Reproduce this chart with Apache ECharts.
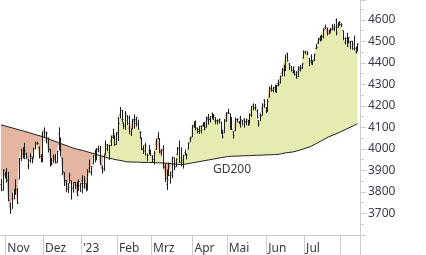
<!DOCTYPE html>
<html>
<head>
    <meta charset="utf-8">
    <title>S&amp;P 500 mit GD200</title>
    <style>
        html, body { margin: 0; padding: 0; background: #fff; }
    </style>
</head>
<body>
    <div id="main" style="width: 426px;height:255px;"></div>
    <script src="https://cdn.jsdelivr.net/npm/echarts@6/dist/echarts.min.js"></script>
    <script type="text/javascript">
        // Tageskurse: Datum, Eröffnung, Hoch, Tief, Schluss
        var bars = [
            ['2022-10-27', 3834.7, 3859.9, 3803.8, 3807.3],
            ['2022-10-28', 3808.3, 3905.4, 3808.3, 3901.1],
            ['2022-10-31', 3881.9, 3893.7, 3863.2, 3872.0],
            ['2022-11-01', 3901.8, 3911.8, 3843.8, 3856.1],
            ['2022-11-02', 3852.9, 3894.4, 3758.7, 3759.7],
            ['2022-11-03', 3733.3, 3750.6, 3698.2, 3719.9],
            ['2022-11-04', 3767.0, 3796.3, 3721.6, 3770.6],
            ['2022-11-07', 3780.7, 3813.9, 3764.7, 3806.8],
            ['2022-11-08', 3817.0, 3859.4, 3786.3, 3828.1],
            ['2022-11-09', 3810.9, 3818.2, 3744.2, 3748.6],
            ['2022-11-10', 3859.9, 3958.3, 3859.9, 3956.4],
            ['2022-11-11', 3963.7, 4001.5, 3944.8, 3992.9],
            ['2022-11-14', 3978.0, 4009.0, 3956.4, 3957.3],
            ['2022-11-15', 4006.4, 4028.8, 3953.2, 3991.7],
            ['2022-11-16', 3976.8, 3983.1, 3954.3, 3958.8],
            ['2022-11-17', 3919.3, 3954.2, 3906.5, 3946.6],
            ['2022-11-18', 3966.4, 3979.9, 3936.0, 3965.3],
            ['2022-11-21', 3956.2, 3962.0, 3933.3, 3949.9],
            ['2022-11-22', 3965.5, 4005.9, 3956.9, 4003.6],
            ['2022-11-23', 4000.3, 4033.8, 3998.7, 4027.3],
            ['2022-11-25', 4023.3, 4034.0, 4020.8, 4026.1],
            ['2022-11-28', 4005.4, 4012.3, 3955.8, 3963.9],
            ['2022-11-29', 3964.2, 3976.8, 3937.7, 3957.6],
            ['2022-11-30', 3957.2, 4080.1, 3938.6, 4080.1],
            ['2022-12-01', 4087.1, 4100.5, 4050.9, 4076.6],
            ['2022-12-02', 4040.2, 4080.5, 4026.6, 4071.7],
            ['2022-12-05', 4052.0, 4052.5, 3984.5, 3998.8],
            ['2022-12-06', 3996.6, 4001.5, 3918.4, 3941.3],
            ['2022-12-07', 3933.3, 3957.6, 3922.7, 3933.9],
            ['2022-12-08', 3947.8, 3974.2, 3935.8, 3963.5],
            ['2022-12-09', 3954.2, 3977.0, 3933.0, 3934.4],
            ['2022-12-12', 3939.3, 3990.7, 3935.3, 3990.6],
            ['2022-12-13', 4069.4, 4101.0, 3993.0, 4019.7],
            ['2022-12-14', 4015.5, 4053.8, 3965.7, 3995.3],
            ['2022-12-15', 3958.4, 3958.4, 3879.5, 3895.8],
            ['2022-12-16', 3890.9, 3890.9, 3827.9, 3852.4],
            ['2022-12-19', 3853.8, 3854.9, 3800.0, 3817.7],
            ['2022-12-20', 3810.5, 3838.2, 3795.6, 3821.6],
            ['2022-12-21', 3839.5, 3889.3, 3839.5, 3878.4],
            ['2022-12-22', 3853.6, 3853.6, 3764.5, 3822.4],
            ['2022-12-23', 3815.1, 3845.8, 3797.0, 3844.8],
            ['2022-12-27', 3843.3, 3846.7, 3813.2, 3829.3],
            ['2022-12-28', 3829.6, 3848.3, 3780.8, 3783.2],
            ['2022-12-29', 3805.5, 3858.2, 3805.5, 3849.3],
            ['2022-12-30', 3829.1, 3839.9, 3800.3, 3839.5],
            ['2023-01-03', 3853.3, 3878.5, 3794.3, 3824.1],
            ['2023-01-04', 3840.4, 3873.2, 3815.8, 3853.0],
            ['2023-01-05', 3839.7, 3839.7, 3802.4, 3808.1],
            ['2023-01-06', 3823.4, 3906.2, 3809.6, 3895.1],
            ['2023-01-09', 3910.8, 3950.6, 3890.4, 3892.1],
            ['2023-01-10', 3888.6, 3919.8, 3877.3, 3919.3],
            ['2023-01-11', 3932.4, 3970.1, 3928.5, 3969.6],
            ['2023-01-12', 3977.6, 3997.8, 3937.6, 3983.2],
            ['2023-01-13', 3960.6, 4004.0, 3947.7, 3999.1],
            ['2023-01-17', 3999.3, 4015.4, 3984.6, 3991.0],
            ['2023-01-18', 4002.3, 4014.2, 3926.6, 3928.9],
            ['2023-01-19', 3911.8, 3922.9, 3885.5, 3898.9],
            ['2023-01-20', 3909.0, 3973.0, 3897.9, 3972.6],
            ['2023-01-23', 3978.1, 4039.3, 3971.6, 4019.8],
            ['2023-01-24', 4001.7, 4023.9, 3989.8, 4017.0],
            ['2023-01-25', 3982.7, 4019.6, 3949.1, 4016.2],
            ['2023-01-26', 4036.1, 4061.6, 4013.3, 4060.4],
            ['2023-01-27', 4053.7, 4094.2, 4048.7, 4070.6],
            ['2023-01-30', 4049.3, 4063.9, 4015.6, 4017.8],
            ['2023-01-31', 4020.9, 4077.2, 4020.4, 4076.6],
            ['2023-02-01', 4070.1, 4149.0, 4037.2, 4119.2],
            ['2023-02-02', 4158.7, 4195.4, 4141.9, 4179.8],
            ['2023-02-03', 4136.7, 4182.4, 4123.4, 4136.5],
            ['2023-02-06', 4119.6, 4124.6, 4093.4, 4111.1],
            ['2023-02-07', 4105.4, 4176.5, 4088.4, 4164.0],
            ['2023-02-08', 4153.5, 4156.9, 4111.7, 4117.9],
            ['2023-02-09', 4144.3, 4156.2, 4069.7, 4081.5],
            ['2023-02-10', 4068.9, 4094.4, 4060.8, 4090.5],
            ['2023-02-13', 4096.6, 4138.9, 4092.7, 4137.3],
            ['2023-02-14', 4126.7, 4159.8, 4095.0, 4136.1],
            ['2023-02-15', 4119.5, 4148.1, 4104.0, 4147.6],
            ['2023-02-16', 4114.8, 4136.5, 4089.9, 4090.4],
            ['2023-02-17', 4077.4, 4081.5, 4048.0, 4079.1],
            ['2023-02-21', 4052.4, 4052.4, 3995.2, 3997.3],
            ['2023-02-22', 4001.8, 4017.4, 3976.9, 3991.1],
            ['2023-02-23', 4018.6, 4028.3, 3969.2, 4012.3],
            ['2023-02-24', 3973.2, 3978.3, 3943.1, 3970.0],
            ['2023-02-27', 3992.4, 4018.1, 3973.6, 3982.2],
            ['2023-02-28', 3977.2, 3997.5, 3969.0, 3970.2],
            ['2023-03-01', 3963.3, 3971.7, 3939.1, 3951.4],
            ['2023-03-02', 3938.7, 3990.8, 3928.2, 3981.4],
            ['2023-03-03', 3998.0, 4048.3, 3995.2, 4045.6],
            ['2023-03-06', 4055.2, 4078.5, 4044.6, 4048.4],
            ['2023-03-07', 4048.3, 4050.0, 3980.3, 3986.4],
            ['2023-03-08', 3987.6, 4000.4, 3969.8, 3992.0],
            ['2023-03-09', 3998.7, 4017.8, 3908.7, 3918.3],
            ['2023-03-10', 3912.8, 3934.1, 3846.3, 3861.6],
            ['2023-03-13', 3835.1, 3905.1, 3808.9, 3855.8],
            ['2023-03-14', 3894.0, 3937.3, 3873.6, 3919.3],
            ['2023-03-15', 3876.7, 3894.3, 3838.2, 3891.9],
            ['2023-03-16', 3878.9, 3964.5, 3864.1, 3960.3],
            ['2023-03-17', 3958.7, 3958.9, 3901.3, 3916.6],
            ['2023-03-20', 3917.5, 3956.6, 3916.9, 3951.6],
            ['2023-03-21', 3975.9, 4009.1, 3971.2, 4002.9],
            ['2023-03-22', 4002.0, 4039.5, 3936.2, 3937.0],
            ['2023-03-23', 3959.2, 4007.7, 3919.1, 3948.7],
            ['2023-03-24', 3939.2, 3972.7, 3909.2, 3971.0],
            ['2023-03-27', 3982.9, 3996.3, 3970.5, 3977.5],
            ['2023-03-28', 3974.1, 3979.2, 3951.5, 3971.3],
            ['2023-03-29', 3999.5, 4030.6, 3999.5, 4027.8],
            ['2023-03-30', 4046.7, 4057.9, 4032.1, 4050.8],
            ['2023-03-31', 4056.2, 4110.8, 4056.2, 4109.3],
            ['2023-04-03', 4102.2, 4127.7, 4098.8, 4124.5],
            ['2023-04-04', 4128.0, 4133.1, 4086.9, 4100.6],
            ['2023-04-05', 4094.5, 4099.7, 4072.6, 4090.4],
            ['2023-04-06', 4081.2, 4107.3, 4069.8, 4105.0],
            ['2023-04-10', 4085.2, 4109.5, 4072.6, 4109.1],
            ['2023-04-11', 4110.3, 4124.3, 4102.6, 4108.9],
            ['2023-04-12', 4121.7, 4124.9, 4086.9, 4092.0],
            ['2023-04-13', 4100.0, 4150.3, 4099.4, 4146.2],
            ['2023-04-14', 4140.1, 4163.2, 4113.2, 4137.6],
            ['2023-04-17', 4137.2, 4151.7, 4123.2, 4151.3],
            ['2023-04-18', 4164.3, 4169.5, 4140.4, 4154.9],
            ['2023-04-19', 4139.3, 4162.6, 4134.5, 4154.5],
            ['2023-04-20', 4130.5, 4148.6, 4114.6, 4129.8],
            ['2023-04-21', 4132.1, 4138.0, 4113.9, 4133.5],
            ['2023-04-24', 4132.1, 4142.4, 4117.8, 4137.0],
            ['2023-04-25', 4126.4, 4126.4, 4071.4, 4071.6],
            ['2023-04-26', 4087.8, 4089.7, 4049.4, 4056.0],
            ['2023-04-27', 4075.3, 4138.2, 4075.3, 4135.4],
            ['2023-04-28', 4129.6, 4170.1, 4127.2, 4169.5],
            ['2023-05-01', 4166.8, 4186.9, 4164.1, 4167.9],
            ['2023-05-02', 4164.1, 4164.1, 4089.7, 4119.6],
            ['2023-05-03', 4122.3, 4148.3, 4088.9, 4090.8],
            ['2023-05-04', 4082.6, 4082.6, 4048.3, 4061.2],
            ['2023-05-05', 4084.7, 4147.0, 4084.7, 4136.3],
            ['2023-05-08', 4137.0, 4142.3, 4123.8, 4138.1],
            ['2023-05-09', 4124.3, 4130.4, 4116.7, 4119.2],
            ['2023-05-10', 4143.7, 4154.3, 4098.9, 4137.6],
            ['2023-05-11', 4132.2, 4132.8, 4109.3, 4130.6],
            ['2023-05-12', 4138.5, 4143.7, 4099.1, 4124.1],
            ['2023-05-15', 4126.7, 4141.3, 4110.3, 4136.3],
            ['2023-05-16', 4128.0, 4135.5, 4109.9, 4109.9],
            ['2023-05-17', 4122.9, 4164.7, 4113.6, 4158.8],
            ['2023-05-18', 4157.7, 4199.0, 4149.0, 4198.1],
            ['2023-05-19', 4204.2, 4212.9, 4180.2, 4192.0],
            ['2023-05-22', 4190.8, 4209.2, 4179.7, 4192.6],
            ['2023-05-23', 4176.8, 4185.7, 4142.5, 4145.6],
            ['2023-05-24', 4133.0, 4133.0, 4104.0, 4115.2],
            ['2023-05-25', 4155.7, 4165.7, 4129.7, 4151.3],
            ['2023-05-26', 4156.2, 4212.9, 4156.2, 4205.5],
            ['2023-05-30', 4226.7, 4231.1, 4192.2, 4205.5],
            ['2023-05-31', 4190.7, 4195.4, 4166.2, 4179.8],
            ['2023-06-01', 4183.0, 4232.4, 4171.6, 4221.0],
            ['2023-06-02', 4241.0, 4290.7, 4241.0, 4282.4],
            ['2023-06-05', 4283.0, 4299.3, 4266.8, 4273.8],
            ['2023-06-06', 4271.6, 4288.3, 4263.1, 4283.9],
            ['2023-06-07', 4285.5, 4299.2, 4264.0, 4267.5],
            ['2023-06-08', 4268.7, 4298.0, 4261.1, 4293.9],
            ['2023-06-09', 4304.9, 4322.6, 4291.7, 4298.9],
            ['2023-06-12', 4308.3, 4340.1, 4304.4, 4338.9],
            ['2023-06-13', 4352.6, 4375.4, 4337.7, 4369.0],
            ['2023-06-14', 4366.3, 4391.8, 4337.9, 4372.6],
            ['2023-06-15', 4365.3, 4439.2, 4362.6, 4425.8],
            ['2023-06-16', 4440.0, 4448.5, 4407.4, 4409.6],
            ['2023-06-20', 4396.1, 4400.2, 4367.2, 4388.7],
            ['2023-06-21', 4380.0, 4386.2, 4360.1, 4365.7],
            ['2023-06-22', 4355.4, 4382.3, 4351.8, 4381.9],
            ['2023-06-23', 4354.2, 4366.6, 4341.3, 4348.3],
            ['2023-06-26', 4344.8, 4362.1, 4328.1, 4328.8],
            ['2023-06-27', 4337.4, 4384.4, 4335.0, 4378.4],
            ['2023-06-28', 4367.5, 4390.4, 4360.2, 4376.9],
            ['2023-06-29', 4374.9, 4398.4, 4372.0, 4396.4],
            ['2023-06-30', 4422.4, 4458.5, 4422.4, 4450.4],
            ['2023-07-03', 4450.5, 4456.5, 4442.3, 4455.6],
            ['2023-07-05', 4442.0, 4454.1, 4436.6, 4446.8],
            ['2023-07-06', 4422.6, 4422.6, 4385.1, 4411.6],
            ['2023-07-07', 4404.5, 4440.4, 4397.4, 4399.0],
            ['2023-07-10', 4394.2, 4412.6, 4389.9, 4409.5],
            ['2023-07-11', 4415.6, 4443.6, 4408.5, 4439.3],
            ['2023-07-12', 4467.7, 4488.3, 4463.2, 4472.2],
            ['2023-07-13', 4491.5, 4517.4, 4489.4, 4510.0],
            ['2023-07-14', 4514.6, 4527.8, 4499.6, 4505.4],
            ['2023-07-17', 4508.9, 4532.9, 4504.9, 4522.8],
            ['2023-07-18', 4521.8, 4562.3, 4514.6, 4555.0],
            ['2023-07-19', 4563.9, 4578.4, 4557.5, 4565.7],
            ['2023-07-20', 4554.4, 4564.7, 4527.6, 4534.9],
            ['2023-07-21', 4550.2, 4555.0, 4535.8, 4536.3],
            ['2023-07-24', 4543.4, 4563.4, 4541.3, 4554.6],
            ['2023-07-25', 4555.2, 4580.6, 4552.4, 4567.5],
            ['2023-07-26', 4559.0, 4582.5, 4547.6, 4566.8],
            ['2023-07-27', 4598.3, 4607.1, 4528.6, 4537.4],
            ['2023-07-28', 4565.8, 4590.2, 4564.0, 4582.2],
            ['2023-07-31', 4584.8, 4594.2, 4573.1, 4589.0],
            ['2023-08-01', 4578.8, 4584.6, 4567.5, 4576.7],
            ['2023-08-02', 4550.9, 4550.9, 4505.8, 4513.4],
            ['2023-08-03', 4494.3, 4519.5, 4485.5, 4501.9],
            ['2023-08-04', 4514.0, 4540.3, 4474.6, 4478.0],
            ['2023-08-07', 4491.6, 4519.8, 4491.2, 4518.4],
            ['2023-08-08', 4498.0, 4503.3, 4464.4, 4499.4],
            ['2023-08-09', 4501.6, 4502.4, 4461.3, 4467.7],
            ['2023-08-10', 4487.2, 4527.4, 4457.9, 4468.8],
            ['2023-08-11', 4450.7, 4476.2, 4444.0, 4464.1],
            ['2023-08-14', 4458.1, 4490.3, 4453.4, 4489.7]
        ];

        // gleitender Durchschnitt 200 Tage
        var gd200 = [
            4112, 4110, 4108, 4106, 4103, 4101, 4099, 4096, 4094, 4092, 4089, 4087,
            4085, 4082, 4080, 4077, 4075, 4072, 4070, 4068, 4065, 4063, 4060, 4057,
            4054, 4051, 4048, 4045, 4042, 4039, 4036, 4033, 4029,
            4026, 4023, 4020, 4017, 4014, 4011, 4008, 4005, 4002, 4000, 3998, 3996,
            3994, 3992, 3989, 3987, 3985, 3982,
            3979, 3977, 3974, 3972, 3969, 3967, 3964, 3962, 3959,
            3957, 3955, 3954, 3952, 3950, 3949, 3947, 3945, 3944, 3942, 3940,
            3940, 3940, 3939, 3939, 3939, 3939, 3938, 3938, 3938, 3938, 3937, 3937,
            3937, 3937, 3936, 3936, 3936, 3936, 3936,
            3935, 3934, 3934, 3933, 3932, 3931, 3930, 3930, 3929, 3928, 3927,
            3928, 3929, 3931, 3932, 3934, 3935, 3937, 3938, 3940, 3941, 3943, 3944,
            3946, 3947, 3949, 3950, 3952, 3953, 3955, 3956, 3958, 3959, 3961, 3962,
            3964, 3965,
            3965, 3966, 3966, 3967, 3967, 3967, 3968, 3968, 3968, 3969, 3969, 3969,
            3970, 3970, 3970, 3971, 3971, 3971, 3972, 3972, 3972, 3973, 3973, 3973,
            3973, 3974, 3974, 3975, 3976, 3978, 3980,
            3982, 3983, 3984, 3985, 3986, 3988,
            3990, 3993, 3995, 3998, 4000, 4003, 4006, 4008, 4011,
            4015, 4020, 4024, 4029, 4033, 4038, 4042, 4047, 4052,
            4056, 4059, 4063, 4067, 4070, 4074, 4077, 4081,
            4085, 4089, 4093, 4097, 4101, 4105, 4109, 4113, 4117
        ];

        // Monatsbeschriftungen in Reihenfolge der Monatswechsel (Aug ohne Text)
        var monthLabels = ['Nov', 'Dez', "'23", 'Feb', 'Mrz', 'Apr', 'Mai', 'Jun', 'Jul', ''];

        var font = 'Noto Sans';
        var textColor = '#3a3a4a';
        var axisColor = '#cccccc';

        var dates = bars.map(function (b) { return b[0]; });
        dates.push('');   // ein leerer Platz rechts

        // Monatswechsel finden
        var monthStart = {};
        var m = 0;
        for (var i = 1; i < bars.length; i++) {
            if (bars[i][0].slice(0, 7) !== bars[i - 1][0].slice(0, 7)) {
                monthStart[i] = monthLabels[m++];
            }
        }

        var closes = bars.map(function (b) { return b[4]; });
        var base = closes.map(function (c, i) { return Math.min(c, gd200[i]); });
        var above = closes.map(function (c, i) { return Math.max(c - gd200[i], 0); });
        var below = closes.map(function (c, i) { return Math.max(gd200[i] - c, 0); });
        var ohlc = bars.map(function (b, i) { return [i, b[1], b[2], b[3], b[4]]; });

        var myChart = echarts.init(document.getElementById('main'));

        var option = {
            animation: false,
            grid: { left: 0, right: 66, top: 0, bottom: 20 },
            xAxis: {
                type: 'category',
                data: dates,
                boundaryGap: true,
                axisLine: { show: true, lineStyle: { color: axisColor, width: 1 } },
                axisTick: {
                    show: true,
                    length: 20,
                    interval: function (idx) { return monthStart[idx] !== undefined; },
                    lineStyle: { color: axisColor, width: 1 }
                },
                axisLabel: {
                    interval: function (idx) { return !!monthStart[idx]; },
                    formatter: function (v, idx) { return monthStart[idx] || ''; },
                    align: 'left',
                    padding: [0, 0, 0, 1],
                    margin: 8,
                    color: textColor,
                    fontFamily: font,
                    fontSize: 12
                },
                splitLine: { show: false }
            },
            yAxis: {
                type: 'value',
                position: 'right',
                min: 3600,
                max: 4693,
                interval: 100,
                axisLine: { show: true, lineStyle: { color: axisColor, width: 1 } },
                axisTick: { show: true, length: 6, lineStyle: { color: axisColor } },
                minorTick: { show: true, splitNumber: 2, length: 4, lineStyle: { color: axisColor } },
                axisLabel: {
                    margin: 8,
                    color: textColor,
                    fontFamily: font,
                    fontSize: 12,
                    showMinLabel: false,
                    formatter: function (v) { return v % 100 === 0 && v > 3600 ? String(v) : ''; }
                },
                splitLine: { show: false }
            },
            graphic: [{
                type: 'text',
                left: 213,
                top: 164,
                style: { text: 'GD200', fill: textColor, font: '12px "Noto Sans"' }
            }],
            series: [
                {
                    type: 'line', stack: 'fill', data: base, symbol: 'none',
                    lineStyle: { width: 0 }, silent: true, z: 1
                },
                {
                    type: 'line', stack: 'fill', data: above, symbol: 'none',
                    lineStyle: { width: 0 }, areaStyle: { color: '#e6ebb2', opacity: 1 },
                    silent: true, z: 1
                },
                {
                    type: 'line', stack: 'fill', data: below, symbol: 'none',
                    lineStyle: { width: 0 }, areaStyle: { color: '#e4b6a2', opacity: 1 },
                    silent: true, z: 1
                },
                {
                    name: 'GD200', type: 'line', data: gd200, symbol: 'none',
                    lineStyle: { color: '#1e1e1e', width: 1 }, z: 3
                },
                {
                    type: 'custom',
                    data: ohlc,
                    encode: { x: 0, y: [1, 2, 3, 4] },
                    z: 4,
                    renderItem: function (params, api) {
                        var idx = api.value(0);
                        var hi = api.coord([idx, api.value(2)]);
                        var lo = api.coord([idx, api.value(3)]);
                        var op = api.coord([idx, api.value(1)]);
                        var cl = api.coord([idx, api.value(4)]);
                        var x = Math.round(hi[0]) + 0.5;
                        var st = { stroke: '#1e1e1e', lineWidth: 1 };
                        return {
                            type: 'group',
                            children: [
                                { type: 'line', shape: { x1: x, y1: hi[1], x2: x, y2: lo[1] }, style: st },
                                { type: 'line', shape: { x1: x - 1, y1: op[1], x2: x, y2: op[1] }, style: st },
                                { type: 'line', shape: { x1: x, y1: cl[1], x2: x + 1, y2: cl[1] }, style: st }
                            ]
                        };
                    }
                }
            ]
        };

        myChart.setOption(option);
    </script>
</body>
</html>
